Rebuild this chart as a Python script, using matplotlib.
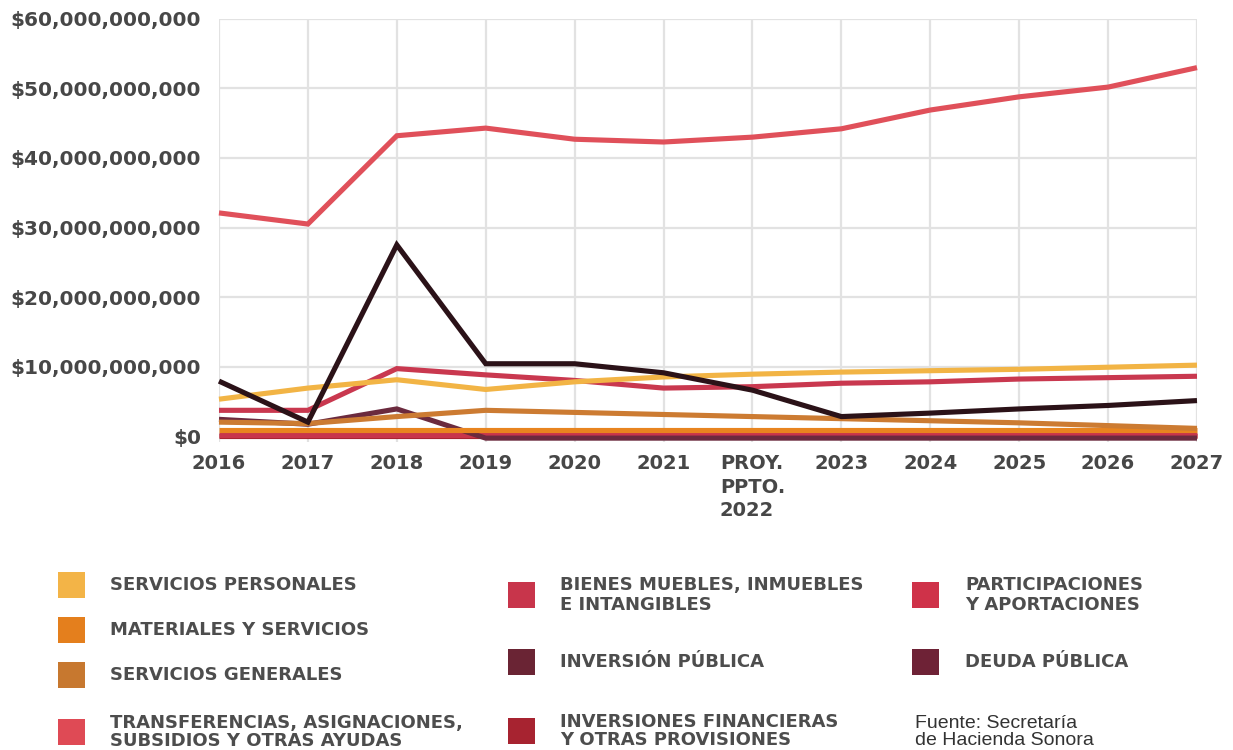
import matplotlib
matplotlib.use('Agg')
import matplotlib.pyplot as plt
from matplotlib.patches import Rectangle

# ---------------- data (billions of pesos) ----------------
years = ['2016', '2017', '2018', '2019', '2020', '2021', 'PROY.\nPPTO.\n2022',
         '2023', '2024', '2025', '2026', '2027']

servicios_personales = [5.3, 6.9, 8.1, 6.7, 7.8, 8.5, 8.9, 9.2, 9.4, 9.6, 9.9, 10.2]
materiales_servicios = [0.8, 0.8, 0.8, 0.8, 0.8, 0.8, 0.8, 0.8, 0.8, 0.8, 0.8, 0.8]
servicios_generales = [2.0, 1.8, 2.8, 3.7, 3.4, 3.1, 2.8, 2.5, 2.2, 1.9, 1.5, 1.1]
transferencias = [32.1, 30.5, 43.2, 44.3, 42.7, 42.3, 43.0, 44.2, 46.9, 48.8, 50.2, 53.0]
bienes_muebles = [0.2, 0.2, 0.2, 0.2, 0.2, 0.2, 0.2, 0.2, 0.2, 0.2, 0.2, 0.2]
inversion_publica = [2.4, 1.7, 3.9, -0.3, -0.3, -0.3, -0.3, -0.3, -0.3, -0.3, -0.3, -0.3]
inversiones_financieras = [0.0, 0.0, 0.0, 0.0, 0.0, 0.0, 0.0, 0.0, 0.0, 0.0, 0.0, 0.0]
participaciones = [3.7, 3.7, 9.7, 8.8, 8.0, 6.9, 7.1, 7.6, 7.8, 8.2, 8.4, 8.6]
deuda_publica = [7.9, 2.0, 27.5, 10.4, 10.4, 9.1, 6.6, 2.8, 3.3, 3.9, 4.4, 5.1]

y_ticks = [0, 10, 20, 30, 40, 50, 60]

legend_labels = ['SERVICIOS PERSONALES', 'MATERIALES Y SERVICIOS', 'SERVICIOS GENERALES',
                 'TRANSFERENCIAS, ASIGNACIONES,\nSUBSIDIOS Y OTRAS AYUDAS',
                 'BIENES MUEBLES, INMUEBLES\nE INTANGIBLES', 'INVERSIÓN PÚBLICA',
                 'INVERSIONES FINANCIERAS\nY OTRAS PROVISIONES',
                 'PARTICIPACIONES\nY APORTACIONES', 'DEUDA PÚBLICA']
swatch_colors = ['#f3b447', '#e47f1d', '#c7782f', '#df4a55', '#c8354b',
                 '#6a2434', '#a72330', '#cf3249', '#6e2236']
source_text = 'Fuente: Secretaría\nde Hacienda Sonora'

# ---------------- figure ----------------
W, H = 1233, 750
fig = plt.figure(figsize=(W / 100, H / 100), dpi=100)
fig.patch.set_facecolor('white')

def fx(px):
    return px / W

def fy(py):
    return 1 - py / H

ax = fig.add_axes([0.1776, 0.4112, 0.7932, 0.5635])
xs = list(range(len(years)))

series = [
    (inversiones_financieras, '#a72330', 2),
    (bienes_muebles, '#c8354b', 2.1),
    (inversion_publica, '#6b2a3e', 2.2),
    (materiales_servicios, '#e8841f', 2.3),
    (servicios_generales, '#cc7b32', 2.4),
    (participaciones, '#c9384f', 2.5),
    (servicios_personales, '#f2b445', 2.6),
    (deuda_publica, '#2b1218', 2.7),
    (transferencias, '#e0505a', 2.8),
]
for vals, col, z in series:
    ax.plot(xs, vals, color=col, lw=3.7, solid_joinstyle='miter',
            solid_capstyle='butt', clip_on=False, zorder=z)

ax.set_xlim(0, len(years) - 1)
ax.set_ylim(-0.8, 60)
ax.set_xticks(xs)
ax.set_xticklabels(years, multialignment='left', linespacing=1.3)
ax.set_yticks(y_ticks)
ax.set_yticklabels([f"${v * 1_000_000_000:,.0f}" for v in y_ticks])

for lab in ax.get_xticklabels():
    lab.set_fontfamily('DejaVu Sans')
    lab.set_fontweight('bold')
    lab.set_fontsize(14)
    lab.set_color('#474747')
for lab in ax.get_yticklabels():
    lab.set_fontfamily('DejaVu Sans')
    lab.set_fontweight('bold')
    lab.set_fontsize(14.5)
    lab.set_color('#474747')

ax.tick_params(axis='both', length=0)
ax.tick_params(axis='y', pad=13)
ax.tick_params(axis='x', pad=9)
ax.grid(True, color='#e2e2e2', lw=1.6)
ax.set_axisbelow(True)
for s in ax.spines.values():
    s.set_visible(False)

# ---------------- legend (manual) ----------------
sw_w, sw_h = 27, 26
# (swatch left px, text left px, center y px, linespacing)
slots = [
    (58, 110, 585, 1.0),
    (58, 110, 630, 1.0),
    (58, 110, 675, 1.0),
    (58, 110, 732, 0.95),
    (508, 560, 595, 1.1),
    (508, 560, 662, 1.0),
    (508, 560, 731, 1.05),
    (912, 965, 595, 1.1),
    (912, 965, 662, 1.0),
]
for (sx, tx, cy, ls), lab, c in zip(slots, legend_labels, swatch_colors):
    fig.patches.append(Rectangle((fx(sx), fy(cy + sw_h / 2)), sw_w / W, sw_h / H,
                                 transform=fig.transFigure, facecolor=c,
                                 edgecolor='none'))
    fig.text(fx(tx), fy(cy), lab, ha='left', va='center', fontsize=13,
             fontweight='bold', family='DejaVu Sans', color='#4d4d4d',
             linespacing=ls)

fig.text(fx(915), fy(732), source_text, ha='left', va='center', fontsize=14,
         family='Liberation Sans', color='#333333', linespacing=1.0)

fig.savefig('out.png', dpi=100, facecolor='white')
